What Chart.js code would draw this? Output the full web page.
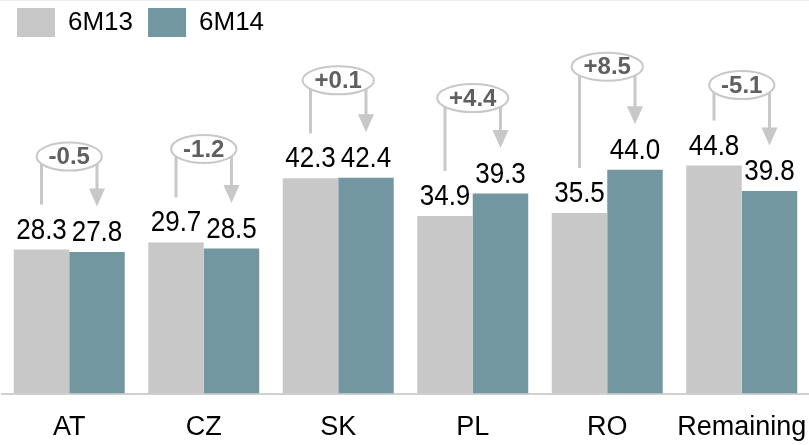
<!DOCTYPE html>
<html>
<head>
<meta charset="utf-8">
<script src="https://cdn.jsdelivr.net/npm/chart.js@4.4.1/dist/chart.umd.min.js"></script>
<style>
  html, body { margin: 0; padding: 0; background: #fff; }
  canvas { display: block; }
</style>
</head>
<body>
<canvas id="chart" width="809" height="445"></canvas>
<script>
// Half-year comparison by country
const categories = ['AT', 'CZ', 'SK', 'PL', 'RO', 'Remaining'];
const seriesNames = ['6M13', '6M14'];
const values6M13 = [28.3, 29.7, 42.3, 34.9, 35.5, 44.8];
const values6M14 = [27.8, 28.5, 42.4, 39.3, 44.0, 39.8];
const changes = [-0.5, -1.2, 0.1, 4.4, 8.5, -5.1];

const FONT = '"Liberation Sans", Arial, Helvetica, sans-serif';
const GREY = '#c8c8c8';
const TEAL = '#7397a1';

function signed(v) {
  return (v > 0 ? '+' : '') + v.toFixed(1);
}

// Text drawn slightly taller than wide, as in the slide's typeface
function tallText(ctx, txt, x, y, stretch) {
  ctx.save();
  ctx.translate(x, y);
  ctx.scale(1, stretch);
  ctx.fillText(txt, 0, 0);
  ctx.restore();
}

// Value labels above each bar plus the change bubbles with their connectors
const calloutPlugin = {
  id: 'callouts',
  beforeDraw(chart) {
    const ctx = chart.ctx;
    ctx.save();
    ctx.fillStyle = '#fff';
    ctx.fillRect(0, 0, chart.width, chart.height);
    ctx.strokeStyle = '#ececec';
    ctx.lineWidth = 1;
    ctx.beginPath();
    ctx.moveTo(0, 0.5);
    ctx.lineTo(chart.width, 0.5);
    ctx.stroke();
    ctx.restore();
  },
  afterDatasetsDraw(chart, args, opts) {
    const ctx = chart.ctx;
    const metas = [chart.getDatasetMeta(0), chart.getDatasetMeta(1)];
    ctx.save();

    ctx.font = '26px ' + FONT;
    ctx.fillStyle = '#000';
    ctx.textAlign = 'center';
    ctx.textBaseline = 'alphabetic';
    metas.forEach((meta, di) => {
      meta.data.forEach((bar, i) => {
        const v = chart.data.datasets[di].data[i];
        tallText(ctx, v.toFixed(1), bar.x, bar.y - 11, 1.1);
      });
    });

    metas[0].data.forEach((g, i) => {
      const t = metas[1].data[i];
      const cy = Math.min(g.y, t.y) - opts.lift[i];
      const cx = (g.x + t.x) / 2;
      const txt = signed(opts.values[i]);
      ctx.font = 'bold 24px ' + FONT;
      const tw = ctx.measureText(txt).width;
      const rx = (tw + 24) / 2;
      const ry = 14;

      ctx.strokeStyle = GREY;
      ctx.fillStyle = GREY;
      ctx.lineWidth = 3;
      ctx.lineCap = 'butt';

      // stem from the bubble down to the earlier period
      ctx.beginPath();
      ctx.moveTo(g.x, cy);
      ctx.lineTo(g.x, g.y - 45);
      ctx.stroke();

      // arrow from the bubble down to the later period
      const tip = t.y - 45.5;
      ctx.beginPath();
      ctx.moveTo(t.x, cy);
      ctx.lineTo(t.x, tip - 16);
      ctx.stroke();
      ctx.beginPath();
      ctx.moveTo(t.x - 8, tip - 18);
      ctx.lineTo(t.x + 8, tip - 18);
      ctx.lineTo(t.x, tip);
      ctx.closePath();
      ctx.fill();

      // bubble
      ctx.beginPath();
      ctx.ellipse(cx, cy, rx, ry, 0, 0, Math.PI * 2);
      ctx.fillStyle = '#fff';
      ctx.fill();
      ctx.lineWidth = 2;
      ctx.stroke();

      ctx.fillStyle = '#5f5f5f';
      ctx.textAlign = 'center';
      ctx.textBaseline = 'middle';
      ctx.fillText(txt, cx, cy + 1);
    });

    ctx.restore();
  }
};

new Chart(document.getElementById('chart'), {
  type: 'bar',
  data: {
    labels: categories,
    datasets: [
      { label: seriesNames[0], data: values6M13, backgroundColor: GREY, borderWidth: 0 },
      { label: seriesNames[1], data: values6M14, backgroundColor: TEAL, borderWidth: 0 }
    ]
  },
  options: {
    responsive: false,
    devicePixelRatio: 1,
    animation: false,
    layout: { padding: { top: -7, left: 2, right: 0, bottom: -17 } },
    datasets: {
      bar: { barPercentage: 1, categoryPercentage: 0.825 }
    },
    scales: {
      x: {
        grid: { display: false, drawTicks: false },
        border: { display: true, color: '#d0d0d0', width: 2 },
        ticks: { color: '#000', font: { family: FONT, size: 27 }, padding: 18, maxRotation: 0, autoSkip: false },
        // let the category bands run to the canvas edges
        afterFit(scale) {
          scale.paddingLeft = 0;
          scale.paddingRight = 0;
        }
      },
      y: {
        display: false,
        min: 0,
        max: 68.1
      }
    },
    plugins: {
      legend: {
        position: 'top',
        align: 'start',
        labels: {
          color: '#000',
          font: { family: FONT, size: 26 },
          boxWidth: 38,
          boxHeight: 29,
          padding: 15
        }
      },
      tooltip: { enabled: false },
      callouts: {
        values: changes,
        lift: [93, 93.5, 97.5, 95.5, 103, 80.5]
      }
    }
  },
  plugins: [calloutPlugin]
});
</script>
</body>
</html>
